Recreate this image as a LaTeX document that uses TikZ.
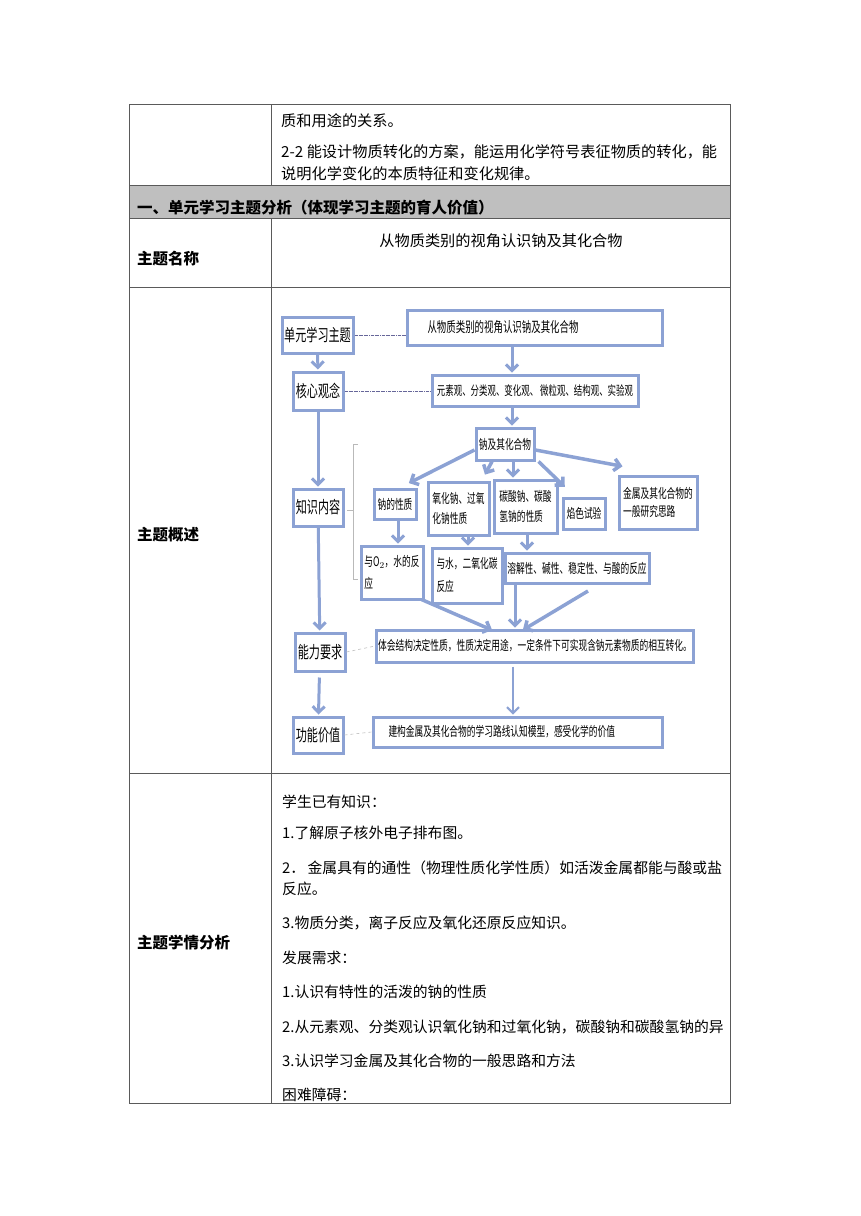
\documentclass[tikz,border=0pt]{standalone}
\usepackage{fontspec}
\setmainfont{Noto Sans CJK SC}
\newfontfamily\narrowcjk[FakeStretch=0.66]{Noto Sans CJK SC}
\usetikzlibrary{arrows.meta,calc}
\definecolor{boxblue}{RGB}{140,162,212}
\definecolor{rulegray}{RGB}{90,90,90}
\definecolor{headgray}{RGB}{191,191,191}

\begin{document}
\begin{tikzpicture}[x=1pt,y=-1pt]
        \tikzstyle{every node}=[inner sep=0pt, font=\fontsize{14.8}{14.8}\selectfont]
        \tikzstyle{cell}=[anchor=west]
        \tikzstyle{topcell}=[anchor=west, font=\fontsize{15.2}{15.2}\selectfont]
        \tikzstyle{head}=[anchor=west, font=\fontsize{15.5}{15.5}\selectfont\bfseries]
        \tikzstyle{bigbox}=[draw=boxblue, line width=3pt, fill=white, font=\narrowcjk\fontsize{16.8}{16.8}\selectfont]
        \tikzstyle{box}=[draw=boxblue, line width=3pt, fill=white, align=left, font=\narrowcjk\fontsize{13.2}{20}\selectfont]
        \tikzstyle{arr}=[draw=boxblue, line width=3pt, shorten >=1pt, -{Straight Barb[length=6pt,width=12pt]}]
        \tikzstyle{link}=[draw=gray!80!blue, densely dash dot, line width=0.7pt]
        \tikzstyle{faint}=[draw=gray!50, dashed, line width=0.6pt]
        \useasboundingbox (0,0) rectangle (860,1216);
        % table
        \fill[headgray] (129,185) rectangle (730,218);
        \draw[rulegray, line width=0.8pt] (129,104) rectangle (730,1103);
        \foreach \y in {185,218,287,773}
            \draw[rulegray, line width=0.8pt] (129,\y) -- (730,\y);
        \draw[rulegray, line width=0.8pt] (271,104) -- (271,185) (271,218) -- (271,1103);
        \node[topcell] (req1) at (281,121) {质和用途的关系。};
        \node[topcell] (req2) at (281,152) {2-2 能设计物质转化的方案，能运用化学符号表征物质的转化，能};
        \node[topcell] (req3) at (281,174) {说明化学变化的本质特征和变化规律。};
        \node[head] (hsec) at (137,208) {一、单元学习主题分析（体现学习主题的育人价值）};
        \node[head] (hname) at (137,259) {主题名称};
        \node[head] (hover) at (137,535) {主题概述};
        \node[head] (hstu) at (137,943) {主题学情分析};
        \node[font=\fontsize{15.2}{15.2}\selectfont] (tname) at (501,241) {从物质类别的视角认识钠及其化合物};
        \begin{scope}
            \clip (272,774) rectangle (729.5,1102);
            \node[cell] (know0) at (282,802) {学生已有知识：};
            \node[cell] (know1) at (282,833) {1.了解原子核外电子排布图。};
            \node[cell] (know2) at (282,868) {2．\,金属具有的通性（物理性质化学性质）如活泼金属都能与酸或盐};
            \node[cell] (know2b) at (282,889) {反应。};
            \node[cell] (know3) at (282,923) {3.物质分类，离子反应及氧化还原反应知识。};
            \node[cell] (need0) at (282,958) {发展需求：};
            \node[cell] (need1) at (282,992) {1.认识有特性的活泼的钠的性质};
            \node[cell] (need2) at (282,1027) {2.从元素观、分类观认识氧化钠和过氧化钠，碳酸钠和碳酸氢钠的异};
            \node[cell] (need3) at (282,1061) {3.认识学习金属及其化合物的一般思路和方法};
            \node[cell] (hard0) at (282,1095) {困难障碍：};
        \end{scope}
        % diagram, left column
        \node[bigbox, minimum width=71, minimum height=36] (unit) at (317.5,335) {单元学习主题};
        \node[bigbox, minimum width=50, minimum height=38] (core) at (318,391) {核心观念};
        \node[bigbox, minimum width=50, minimum height=37] (know) at (318,507.5) {知识内容};
        \node[bigbox, minimum width=50, minimum height=38] (able) at (320,652) {能力要求};
        \node[bigbox, minimum width=50, minimum height=36] (func) at (318,735) {功能价值};
        % diagram, right part
        \node[box, minimum width=255, minimum height=35, text width=214, font=\narrowcjk\fontsize{14.3}{14.3}\selectfont] (title) at (534.5,327.5) {从物质类别的视角认识钠及其化合物};
        \node[box, minimum width=206, minimum height=31, font=\narrowcjk\fontsize{12.8}{12.8}\selectfont] (views) at (535,390.5) {元素观、分类观、变化观、 微粒观、结构观、实验观};
        \node[box, minimum width=58, minimum height=32] (na) at (505,444) {钠及其化合物};
        \node[box, minimum width=42, minimum height=30] (sodium) at (395,504) {钠的性质};
        \node[box, minimum width=61, minimum height=53] (oxide) at (458.5,508.5) {氧化钠、过氧\\化钠性质};
        \node[box, minimum width=63, minimum height=53] (carb) at (525.5,506.5) {碳酸钠、碳酸\\氢钠的性质};
        \node[box, minimum width=42, minimum height=31] (flame) at (584,513.5) {焰色试验};
        \node[box, minimum width=78, minimum height=53, font=\narrowcjk\fontsize{13.2}{18}\selectfont] (metal) at (658,502.5) {金属及其化合物的\\一般研究思路};
        \node[box, minimum width=62, minimum height=53, font=\narrowcjk\fontsize{13.2}{22}\selectfont] (o2) at (392,572.5) {与O$_2$，水的反\\应};
        \node[box, minimum width=70, minimum height=55, font=\narrowcjk\fontsize{13.2}{23}\selectfont] (water) at (467,575.5) {与水，二氧化碳\\反应};
        \node[box, minimum width=144, minimum height=30] (sol) at (577,568) {溶解性、碱性、稳定性、与酸的反应};
        \node[box, minimum width=317, minimum height=32] (exp) at (535,646) {体会结构决定性质，性质决定用途，一定条件下可实现含钠元素物质的相互转化。};
        \node[box, minimum width=289, minimum height=30, text width=258] (build) at (517.5,732) {建构金属及其化合物的学习路线认知模型，感受化学的价值};
        % connectors
        \draw[link] (unit.east) -- (title.west |- unit.east);
        \draw[link] (core.east) -- (views.west |- core.east);
        \draw[faint] (able.east) -- (exp.west);
        \draw[faint] (func.east) -- (build.west);
        \draw[gray!55, line width=0.7pt] (358,444) -- (353,444) -- (353,579) -- (358,579) (353,510) -- (347,510);
        \draw[arr] (unit) -- (core);
        \draw[arr] (core) -- (know);
        \draw[arr] (know) -- (able);
        \draw[arr, shorten <=5pt] (able) -- (func);
        \draw[arr] (title.south -| 512,0) -- (views.north -| 512,0);
        \draw[arr] (views.south -| 512,0) -- (na.north -| 512,0);
        \draw[arr, line width=3.5pt] (na.west |- 0,450) -- ($(sodium.north)+(13,-4)$);
        \draw[arr, line width=3.5pt] ($(na.south)+(-13,0)$) -- ($(oxide.north east)+(-6,-5)$);
        \draw[arr] (na.south -| 513,0) -- (carb.north -| 513,0);
        \draw[arr, line width=3.5pt] ($(na.south east)+(3,0)$) -- ($(flame.north west)+(4,-9)$);
        \draw[arr, line width=3.5pt] (na.east |- 0,450) -- ($(metal.north west)+(6,-8)$);
        \draw[arr] (sodium.south -| 398,0) -- (o2.north -| 398,0);
        \draw[arr] (oxide.south -| 468,0) -- (water.north -| 468,0);
        \draw[arr] (carb.south -| 527,0) -- (sol.north -| 527,0);
        \draw[arr, line width=3.5pt] ($(o2.south east)+(-3,-1)$) -- ($(exp.north west)+(118,2)$);
        \draw[arr] (sol.south -| 515,0) -- (exp.north -| 515,0);
        \coordinate (free) at (588,591);
        \draw[arr, line width=3.5pt] (free) -- ($(exp.north)+(-13,2)$);
        \draw[arr, line width=2pt, shorten <=3pt] (exp.south -| 513,0) -- (build.north -| 513,0);
\end{tikzpicture}
\end{document}
